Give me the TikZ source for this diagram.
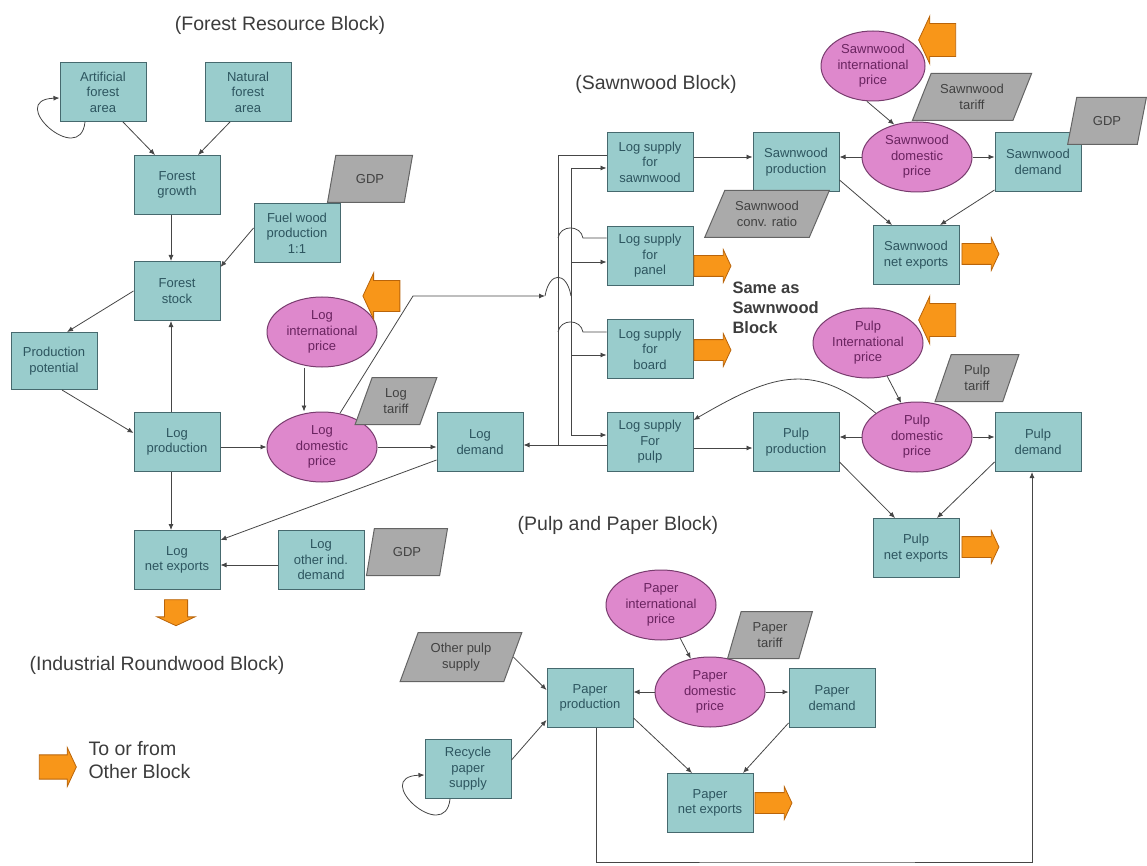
\documentclass[tikz,border=0pt]{standalone}
\usepackage{fontspec}
\setmainfont{Liberation Sans}
\usetikzlibrary{shapes.geometric,shapes.arrows,arrows.meta}

\definecolor{boxfill}{RGB}{153,204,204}
\definecolor{boxline}{RGB}{70,105,110}
\definecolor{boxtext}{RGB}{45,85,95}
\definecolor{pricefill}{RGB}{222,136,204}
\definecolor{priceline}{RGB}{120,60,110}
\definecolor{pricetext}{RGB}{105,35,95}
\definecolor{exofill}{RGB}{170,170,170}
\definecolor{exoline}{RGB}{100,100,100}
\definecolor{exotext}{RGB}{65,65,65}
\definecolor{blockorange}{RGB}{248,150,25}
\definecolor{blockline}{RGB}{185,100,10}
\definecolor{wire}{RGB}{70,70,70}
\definecolor{titletext}{RGB}{60,60,60}

\newcommand{\nodefont}{\fontsize{13}{15.5}\selectfont}
\newcommand{\titlefont}{\fontsize{19.5}{23}\selectfont}

\begin{document}
\begin{tikzpicture}[x=1pt,y=1pt,
    blk/.style={rectangle,draw=boxline,fill=boxfill,line width=1pt,minimum width=86pt,minimum height=59pt,align=center,text=boxtext,font=\nodefont,inner sep=1pt},
    price/.style={ellipse,draw=priceline,fill=pricefill,line width=1pt,minimum width=110pt,minimum height=70pt,align=center,text=pricetext,font=\nodefont,inner sep=0pt},
    exo/.style={trapezium,trapezium left angle=#1,trapezium right angle={180-#1},trapezium stretches=true,draw=exoline,fill=exofill,line width=1pt,minimum height=47pt,align=center,text=exotext,font=\nodefont,inner sep=1pt},
    flow/.style={draw=wire,line width=0.8pt,-{Latex[length=6pt,width=5pt]}},
    link/.style={draw=wire,line width=0.8pt},
    toblock/.style={single arrow,draw=blockline,fill=blockorange,line width=0.8pt,minimum height=37pt,minimum width=32pt,inner sep=10pt,single arrow head extend=6pt,single arrow tip angle=130},
    fromblock/.style={toblock,shape border rotate=180,minimum width=46pt,inner sep=12pt},
    title/.style={text=titletext,font=\titlefont},
  ]
  \useasboundingbox (0,0) rectangle (1147,-866);

  % forest resource block
  \node[title] (ttlforest) at (280,-25) {(Forest Resource Block)};
  \node[blk] (afa) at (103,-92) {Artificial\\forest\\area};
  \node[blk] (nfa) at (248,-92) {Natural\\forest\\area};
  \node[blk] (fgr) at (177,-185) {Forest\\growth};
  \node[blk] (fwp) at (297,-233) {Fuel wood\\production\\1:1};
  \node[blk] (fst) at (177,-291) {Forest\\stock};
  \node[blk,minimum height=57pt] (ppo) at (54,-361) {Production\\potential};
  \node[blk] (lpr) at (177,-442) {Log\\production};
  \node[blk] (lnx) at (177,-560) {Log\\net exports};
  \node[blk] (lod) at (321,-560) {Log\\other ind.\\demand};
  \node[price] (lip) at (322,-332) {Log\\international\\price};
  \node[price] (ldp) at (322,-447) {Log\\domestic\\price};
  \node[blk] (ldm) at (480,-442) {Log\\demand};
  \node[exo=72,minimum width=85pt] (gdpf) at (370,-179) {GDP};
  \node[exo=70,minimum width=82pt] (ltf) at (396,-401) {Log\\tariff};
  \node[exo=72,minimum width=81pt] (gdpl) at (407,-552) {GDP};
  \node[fromblock] (lipin) at (385,-296) {};
  \node[toblock,shape border rotate=270,minimum height=26pt,minimum width=38pt,inner sep=9pt] (lnxout) at (176,-610) {};
  \node[title] (ttlround) at (157,-665) {(Industrial Roundwood Block)};

  % sawnwood block
  \node[title] (ttlsawn) at (656,-84) {(Sawnwood Block)};
  \node[blk] (lss) at (650,-162) {Log supply\\for\\sawnwood};
  \node[blk] (lpa) at (650,-256) {Log supply\\for\\panel};
  \node[blk] (lbo) at (650,-349) {Log supply\\for\\board};
  \node[blk] (lsu) at (650,-442) {Log supply\\For\\pulp};
  \node[blk] (spr) at (796,-162) {Sawnwood\\production};
  \node[price,minimum width=104pt] (sip) at (873,-66) {Sawnwood\\international\\price};
  \node[price] (sdp) at (917,-157) {Sawnwood\\domestic\\price};
  \node[blk] (sdm) at (1038,-162) {Sawnwood\\demand};
  \node[blk] (snx) at (916,-255) {Sawnwood\\net exports};
  \node[exo=60,minimum width=125pt] (scr) at (767,-214) {Sawnwood\\conv. ratio};
  \node[exo=61,minimum width=120pt] (stf) at (972,-97) {Sawnwood\\tariff};
  \node[exo=68,minimum width=79pt] (gdps) at (1107,-121) {GDP};
  \node[fromblock,minimum width=48pt,inner sep=13pt] (sipin) at (941,-40) {};
  \node[toblock] (lpaout) at (710,-266) {};
  \node[toblock] (lboout) at (710,-350) {};
  \node[toblock] (snxout) at (978,-254) {};
  \node[anchor=west,align=left,text=titletext,font=\fontsize{16.5}{20}\selectfont\bfseries] (sameas) at (729,-308) {Same as\\Sawnwood\\Block};

  % pulp
  \node[price] (pip) at (868,-343) {Pulp\\International\\price};
  \node[price] (pdp) at (917,-437) {Pulp\\domestic\\price};
  \node[blk] (ppr) at (796,-442) {Pulp\\production};
  \node[blk] (pdm) at (1038,-442) {Pulp\\demand};
  \node[blk] (pnx) at (916,-548) {Pulp\\net exports};
  \node[exo=72,minimum width=84pt] (ptf) at (977,-378) {Pulp\\tariff};
  \node[fromblock,minimum width=48pt,inner sep=13pt] (pipin) at (941,-320) {};
  \node[toblock] (pnxout) at (978,-547) {};

  % pulp and paper block
  \node[title] (ttlpaper) at (618,-525) {(Pulp and Paper Block)};
  \node[price] (api) at (661,-605) {Paper\\international\\price};
  \node[price] (apd) at (710,-692) {Paper\\domestic\\price};
  \node[blk] (apr) at (590,-698) {Paper\\production};
  \node[blk] (adm) at (832,-698) {Paper\\demand};
  \node[blk] (anx) at (710,-803) {Paper\\net exports};
  \node[blk] (rps) at (468,-769) {Recycle\\paper\\supply};
  \node[exo=72,minimum width=85pt] (atf) at (770,-635) {Paper\\tariff};
  \node[exo=66,minimum width=122pt,minimum height=49pt] (ops) at (461,-657) {Other pulp\\supply};
  \node[toblock] (anxout) at (771,-803) {};

  % legend
  \node[toblock,minimum width=39pt,inner sep=9.5pt] (legarrow) at (55,-767) {};
  \node[title,anchor=west,align=left] (legtext) at (85,-760) {To or from\\Other Block};

  % log supply bus
  \coordinate (boT) at (558,-155);
  \coordinate (boB) at (558,-445);
  \coordinate (biT) at (571,-168);
  \coordinate (biB) at (571,-435);
  \coordinate (hpa) at (583,-238);
  \coordinate (bpa) at (558,-238);
  \coordinate (hbo) at (583,-332);
  \coordinate (bbo) at (558,-332);
  \coordinate (lbend) at (413,-296);
  \coordinate (lhop) at (545,-296);
  \coordinate (lhopend) at (571,-296);
  \coordinate (pbot) at (800,-862);

  \draw[link] ([yshift=7pt]lss.west) -- (boT) -- (boB);
  \draw[flow] ([yshift=-3pt]lsu.west) -- ([yshift=-3pt]ldm.east);
  \draw[link] ([yshift=18pt]lpa.west) -- (hpa) to[out=100,in=80,looseness=1.4] (bpa);
  \draw[link] ([yshift=17pt]lbo.west) -- (hbo) to[out=100,in=80,looseness=1.4] (bbo);
  \draw[link] (biT) -- (biB);
  \draw[flow] (biT) -- ([yshift=-6pt]lss.west);
  \foreach \b in {lpa,lbo}{
      \draw[flow] ([yshift=-6pt]\b.west -| biT) -- ([yshift=-6pt]\b.west);
    }
  \draw[flow] (biB) -- ([yshift=7pt]lsu.west);
  \draw[flow] (ldp.62) -- (lbend) -- (lhop);
  \draw[link] (lhop) to[out=80,in=100,looseness=2.5] (lhopend);

  % forest and log links
  \draw[flow] ([xshift=20pt]afa.south) -- ([xshift=-22pt]fgr.north);
  \draw[flow] ([xshift=-18pt]nfa.south) -- ([xshift=21pt]fgr.north);
  \draw[flow] ([xshift=-18pt]afa.south) to[out=264,in=182,out looseness=3.4,in looseness=4] ([yshift=-6pt]afa.west);
  \draw[flow] ([xshift=-6pt]fgr.south) -- ([xshift=-6pt]fst.north);
  \draw[flow] ([yshift=5pt]fwp.west) -- ([yshift=-6pt]fst.north east);
  \draw[flow] (fst.west) -- ([xshift=13pt]ppo.north);
  \draw[flow] ([xshift=8pt]ppo.south) -- ([yshift=9pt]lpr.west);
  \draw[flow] ([xshift=-6pt]lpr.north) -- ([xshift=-6pt]fst.south);
  \draw[flow] ([xshift=-6pt]lpr.south) -- ([xshift=-6pt]lnx.north);
  \draw[flow] (lpr.east |- ldp.west) -- (ldp.west);
  \draw[flow] ([xshift=-18pt]lip.south) -- ([xshift=-18pt]ldp.north);
  \draw[flow] (ldp.east) -- (ldp.east -| ldm.west);
  \draw[flow] ([yshift=-18pt]ldm.west) -- ([yshift=-10pt]lnx.north east);
  \draw[flow] ([yshift=-5pt]lod.west) -- ([yshift=-5pt]lnx.east);

  % sawnwood links
  \draw[flow] ([yshift=5pt]lss.east) -- ([yshift=5pt]spr.west);
  \draw[flow] (sip.260) -- (sdp.125);
  \draw[flow] (sdp.west) -- (sdp.west -| spr.east);
  \draw[flow] (sdp.east) -- (sdp.east -| sdm.west);
  \draw[flow] ([yshift=12pt]spr.south east) -- ([xshift=-24pt]snx.north);
  \draw[flow] ([yshift=2pt]sdm.south west) -- ([xshift=24pt]snx.north);

  % pulp links
  \draw[flow] ([yshift=-6pt]lsu.east) -- ([yshift=-6pt]ppr.west);
  \draw[flow] (pip.-60) -- (pdp.115);
  \draw[flow] (pdp.west) -- (pdp.west -| ppr.east);
  \draw[flow] (pdp.east) -- (pdp.east -| pdm.west);
  \draw[flow] ([yshift=10pt]ppr.south east) -- ([xshift=-21pt]pnx.north);
  \draw[flow] ([yshift=10pt]pdm.south west) -- ([xshift=21pt]pnx.north);
  \draw[flow] (pdp.150) to[out=140,in=30,looseness=1.2] ([yshift=-8pt]lsu.north east);

  % paper links
  \draw[flow] (ops.east) -- ([yshift=8pt]apr.west);
  \draw[flow] ([yshift=9pt]rps.east) -- ([yshift=-22pt]apr.west);
  \draw[flow] ([xshift=-18pt]rps.south) to[out=264,in=182,out looseness=3.4,in looseness=4] ([yshift=-6pt]rps.west);
  \draw[flow] (api.-60) -- (apd.120);
  \draw[flow] (apd.west) -- (apd.west -| apr.east);
  \draw[flow] (apd.east) -- (apd.east -| adm.west);
  \draw[flow] ([yshift=10pt]apr.south east) -- ([xshift=-18pt]anx.north);
  \draw[flow] ([yshift=5pt]adm.south west) -- ([xshift=33pt]anx.north);
  \draw[flow] ([xshift=6pt]apr.south) |- (pbot) -| ([xshift=-6pt]pdm.south);
\end{tikzpicture}
\end{document}
